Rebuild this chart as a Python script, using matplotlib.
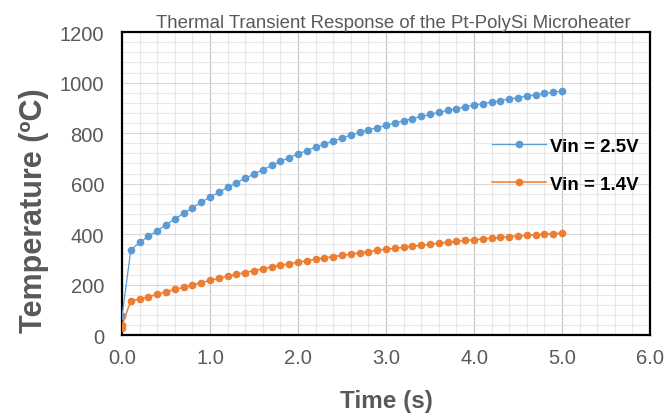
import matplotlib
matplotlib.use("Agg")
import matplotlib.pyplot as plt
from matplotlib.ticker import MultipleLocator, FormatStrFormatter

plt.rcParams['font.family'] = ['Liberation Sans', 'DejaVu Sans']

# time steps of 0.1 s, plus the starting points at t = 0
time_blue = [0.0] + [round(0.1 * i, 1) for i in range(1, 51)]
temp_blue = [76,
             338, 367, 391, 414, 437, 460, 482, 504, 526, 547,
             566, 585, 603, 621, 638, 655, 672, 688, 703, 718,
             731, 744, 757, 769, 781, 792, 803, 813, 822, 831,
             840, 849, 857, 866, 874, 882, 890, 897, 904, 911,
             917, 923, 929, 935, 941, 947, 952, 957, 962, 967]

time_orange = [0.0, 0.0] + [round(0.1 * i, 1) for i in range(1, 51)]
temp_orange = [28, 40,
               136, 143, 152, 162, 172, 181, 190, 199, 208, 217,
               225, 233, 241, 248, 256, 263, 270, 277, 283, 289,
               295, 301, 306, 311, 316, 321, 326, 331, 336, 340,
               344, 348, 352, 356, 360, 364, 368, 371, 375, 378,
               381, 384, 387, 390, 393, 395, 398, 400, 402, 404]

labels = ['Vin = 2.5V', 'Vin = 1.4V']
gray = '#595959'

fig = plt.figure(figsize=(6.67, 4.14), dpi=100)
ax = fig.add_axes([0.183, 0.188, 0.7915, 0.732])

ax.plot(time_blue, temp_blue, color='#5B9BD5', lw=0.9, marker='o',
        markersize=4.5, label=labels[0], zorder=3)
ax.plot(time_orange, temp_orange, color='#ED7D31', lw=1.1, marker='o',
        markersize=4.5, label=labels[1], zorder=3)

ax.set_xlim(0, 6)
ax.set_ylim(0, 1200)
ax.xaxis.set_major_locator(MultipleLocator(1))
ax.xaxis.set_minor_locator(MultipleLocator(0.2))
ax.yaxis.set_major_locator(MultipleLocator(200))
ax.yaxis.set_minor_locator(MultipleLocator(40))
ax.xaxis.set_major_formatter(FormatStrFormatter('%.1f'))

ax.grid(which='minor', color='#e8e8e8', lw=0.8, zorder=0)
ax.grid(which='major', axis='x', color='#c4c4c4', lw=0.8, zorder=0)
ax.grid(which='major', axis='y', color='#d8d8d8', lw=0.8, zorder=0)
ax.set_axisbelow(True)

for s in ax.spines.values():
    s.set_color('black')
    s.set_linewidth(1.6)

ax.tick_params(which='both', length=0)
ax.tick_params(axis='y', pad=13, labelsize=14.5, labelcolor=gray)
ax.tick_params(axis='x', pad=9, labelsize=14.5, labelcolor=gray)

ax.set_xlabel('Time (s)', fontsize=17.5, fontweight='bold', color=gray, labelpad=16)
ax.set_ylabel('Temperature (ºC)', fontsize=22, fontweight='bold', color=gray)
ax.yaxis.set_label_coords(-0.138, 0.415)
ax.set_title('Thermal Transient Response of the Pt-PolySi Microheater',
             fontsize=13.4, color=gray, pad=4, x=0.513)

leg = ax.legend(loc='upper left', bbox_to_anchor=(0.668, 0.707), frameon=False,
                prop={'weight': 'bold', 'size': 13.5}, handlelength=2.9,
                handletextpad=0.2, labelspacing=1.1)

fig.savefig('out.png', dpi=100)
